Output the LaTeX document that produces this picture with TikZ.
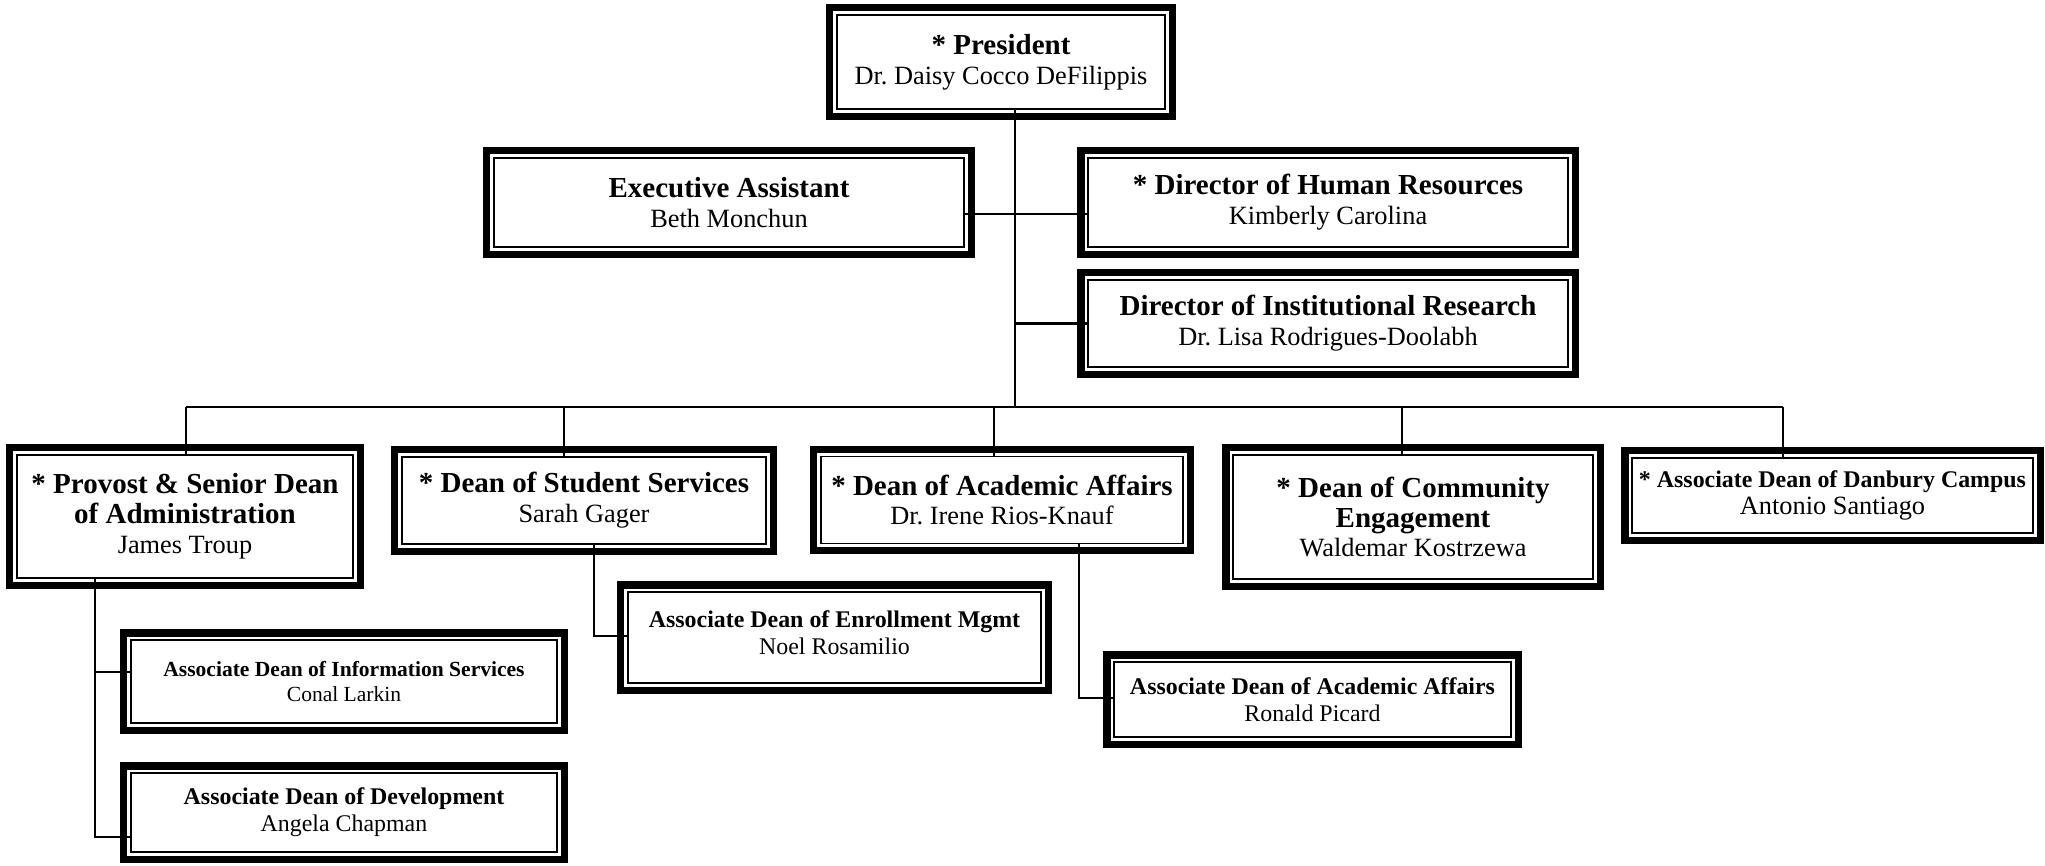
\documentclass[tikz,border=0pt]{standalone}
\usepackage{fontspec}
\setmainfont{Liberation Serif}
\frenchspacing
\newcommand{\ttl}[1]{{\fontsize{16.5}{17}\selectfont\bfseries #1}}
\newcommand{\nm}[1]{{\fontsize{15}{17}\selectfont #1}}
\tikzset{
  orgbox/.style={draw, line width=1pt, fill=white, align=center, inner sep=0pt,
    font=\fontsize{15}{17}\selectfont},
  subbox/.style={orgbox, font=\fontsize{13.6}{15.5}\selectfont},
  boxsize/.style 2 args={minimum width=#1*0.2mm, minimum height=#2*0.2mm},
  frame/.style={line width=4.2pt},
  link/.style={line width=1.3pt}
}
\begin{document}
\begin{tikzpicture}[x=0.2mm,y=-0.2mm]
\useasboundingbox (0,0) rectangle (2045,865);
% president and staff
\node[orgbox,boxsize={328}{94}] (pres) at (1001,62) {\ttl{* President}\\Dr. Daisy Cocco DeFilippis};
\node[orgbox,boxsize={470}{89}] (exec) at (729,202.5) {\ttl{Executive Assistant}\\Beth Monchun};
\node[orgbox,boxsize={480}{89}] (hr) at (1328,202.5) {\ttl{* Director of Human Resources}\\Kimberly Carolina};
\node[orgbox,boxsize={480}{87}] (ir) at (1328,323.5) {\ttl{Director of Institutional Research}\\Dr. Lisa Rodrigues-Doolabh};
% deans
\node[orgbox,boxsize={336}{123}] (prov) at (185,516.5) {\ttl{* Provost \& Senior Dean}\\\ttl{of Administration}\\James Troup};
\node[orgbox,boxsize={364}{87}] (stud) at (584,500.5) {\ttl{* Dean of Student Services}\\Sarah Gager};
\node[orgbox,boxsize={362}{87}] (acad) at (1002,500) {\ttl{* Dean of Academic Affairs}\\Dr. Irene Rios-Knauf};
\node[orgbox,boxsize={360}{124}] (comm) at (1413,517) {\ttl{* Dean of Community}\\\ttl{Engagement}\\Waldemar Kostrzewa};
\node[subbox,boxsize={401}{75}] (danb) at (1832.5,495.5) {\textbf{* Associate Dean of Danbury Campus}\\\nm{Antonio Santiago}};
% associate deans
\node[subbox,boxsize={426}{83},font=\fontsize{12.25}{14.5}\selectfont] (info) at (344,681.5) {\textbf{Associate Dean of Information Services}\\Conal Larkin};
\node[subbox,boxsize={426}{79}] (dev) at (344,812.5) {\textbf{Associate Dean of Development}\\Angela Chapman};
\node[subbox,boxsize={413}{91}] (enrl) at (834.5,637.5) {\textbf{Associate Dean of Enrollment Mgmt}\\Noel Rosamilio\\[-10pt]};
\node[subbox,boxsize={397}{75}] (aacad) at (1312.5,699.5) {\textbf{Associate Dean of Academic Affairs}\\Ronald Picard};
% connectors
\coordinate (bus) at (1015,407);
\coordinate (d1) at (186,407);
\coordinate (d2) at (564,407);
\coordinate (d3) at (994,407);
\coordinate (d4) at (1402,407);
\coordinate (d5) at (1783,407);
\coordinate (ej) at (1015,214);
\coordinate (pj1) at (95,672);
\coordinate (pj2) at (95,837);
\coordinate (sj) at (594,636);
\coordinate (aj) at (1079,698);
\draw[link] (pres.south -| bus) -- (bus);
\draw[link] (ej -| exec.east) -- (ej -| hr.west);
\draw[link] (ir.west) -- (ir.west -| bus);
\draw[link] (d1) -- (d5);
\foreach \d/\n in {d1/prov,d2/stud,d3/acad,d4/comm,d5/danb}
  \draw[link] (\d) -- (\d |- \n.north);
\draw[link] (prov.south -| pj1) -- (pj2) -- (pj2 -| dev.west);
\draw[link] (pj1) -- (pj1 -| info.west);
\draw[link] (stud.south -| sj) -- (sj) -- (sj -| enrl.west);
\draw[link] (acad.south -| aj) -- (aj) -- (aj -| aacad.west);
% thick outer frames
\foreach \n in {pres,exec,hr,ir,prov,stud,acad,comm,danb,info,dev,enrl,aacad}
  \draw[frame] ([shift={(-3.6pt,-3.6pt)}]\n.south west) rectangle ([shift={(3.6pt,3.6pt)}]\n.north east);
\end{tikzpicture}
\end{document}
